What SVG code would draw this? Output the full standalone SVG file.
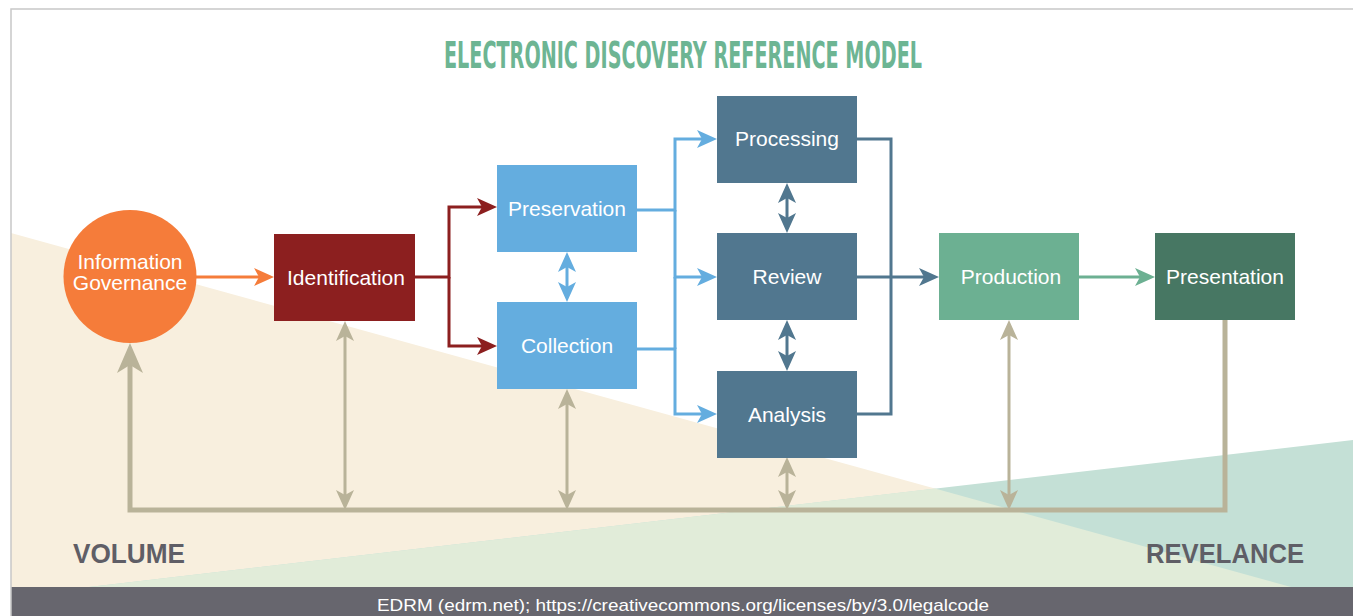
<svg xmlns="http://www.w3.org/2000/svg" width="1353" height="616" viewBox="0 0 1353 616">
<style>
.lbl{font-family:"Liberation Sans",Arial,sans-serif;font-size:21px;fill:#ffffff;text-anchor:middle}
.ln{fill:none;stroke-width:3}
.tan{stroke:#b9b399}
.big{fill:#5f5e66;font-family:"Liberation Sans",Arial,sans-serif;font-weight:bold;font-size:27px}
</style>
<defs>
<marker id="a-or" viewBox="0 0 20 18" markerWidth="20" markerHeight="18" refX="14" refY="9" markerUnits="userSpaceOnUse" orient="auto-start-reverse"><path d="M0,0 L20,9 L0,18 L5,9 Z" fill="#f57c3a"/></marker>
<marker id="a-rd" viewBox="0 0 20 18" markerWidth="20" markerHeight="18" refX="14" refY="9" markerUnits="userSpaceOnUse" orient="auto-start-reverse"><path d="M0,0 L20,9 L0,18 L5,9 Z" fill="#8c1f1f"/></marker>
<marker id="a-bl" viewBox="0 0 20 18" markerWidth="20" markerHeight="18" refX="14" refY="9" markerUnits="userSpaceOnUse" orient="auto-start-reverse"><path d="M0,0 L20,9 L0,18 L5,9 Z" fill="#64addf"/></marker>
<marker id="a-sl" viewBox="0 0 20 18" markerWidth="20" markerHeight="18" refX="14" refY="9" markerUnits="userSpaceOnUse" orient="auto-start-reverse"><path d="M0,0 L20,9 L0,18 L5,9 Z" fill="#51778f"/></marker>
<marker id="a-gr" viewBox="0 0 20 18" markerWidth="20" markerHeight="18" refX="14" refY="9" markerUnits="userSpaceOnUse" orient="auto-start-reverse"><path d="M0,0 L20,9 L0,18 L5,9 Z" fill="#6cb092"/></marker>
<marker id="a-tn" viewBox="0 0 20 18" markerWidth="20" markerHeight="18" refX="14" refY="9" markerUnits="userSpaceOnUse" orient="auto-start-reverse"><path d="M0,0 L20,9 L0,18 L5,9 Z" fill="#b9b399"/></marker>
<marker id="a-tnb" viewBox="0 0 30 26" markerWidth="30" markerHeight="26" refX="22" refY="13" markerUnits="userSpaceOnUse" orient="auto"><path d="M0,0 L30,13 L0,26 L8,13 Z" fill="#b9b399"/></marker>
</defs>
<rect width="1353" height="616" fill="#ffffff"/>
<g id="background">
<polygon points="11,233 1291,587 11,587" fill="#f8efde"/>
<polygon points="89,587 1353,440 1353,587" fill="#c4e0d6"/>
<polygon points="89,587 935,488.6 1291,587" fill="#e1ecd9"/>
<rect x="11" y="587" width="1342" height="29" fill="#67666e"/>
<path d="M11,616 V9 H1353" fill="none" stroke="#c8c8c8" stroke-width="1.5"/>
</g>
<text id="title" x="683" y="68" text-anchor="middle" font-family="'Liberation Sans Narrow','DejaVu Sans Condensed','Liberation Sans',sans-serif" font-weight="bold" font-size="37" fill="#6db593" textLength="478" lengthAdjust="spacingAndGlyphs">ELECTRONIC DISCOVERY REFERENCE MODEL</text>
<g id="connectors">
<path class="ln" stroke="#f57c3a" d="M196,277 H268" marker-end="url(#a-or)"/>
<path class="ln" stroke="#8c1f1f" d="M415,277 H449 V207 H491" marker-end="url(#a-rd)"/>
<path class="ln" stroke="#8c1f1f" d="M449,277 V346 H491" marker-end="url(#a-rd)"/>
<path class="ln" stroke="#64addf" d="M637,210 H675 V139 H711" marker-end="url(#a-bl)"/>
<path class="ln" stroke="#64addf" d="M675,210 V277 H711" marker-end="url(#a-bl)"/>
<path class="ln" stroke="#64addf" d="M637,349 H675 V414 H711" marker-end="url(#a-bl)"/>
<path class="ln" stroke="#64addf" d="M675,277 V349"/>
<path class="ln" stroke="#64addf" d="M567,258 V296" marker-start="url(#a-bl)" marker-end="url(#a-bl)"/>
<path class="ln" stroke="#51778f" d="M857,139 H891 V414 H857"/>
<path class="ln" stroke="#51778f" d="M857,277 H933" marker-end="url(#a-sl)"/>
<path class="ln" stroke="#51778f" d="M787,189 V227" marker-start="url(#a-sl)" marker-end="url(#a-sl)"/>
<path class="ln" stroke="#51778f" d="M787,326 V365" marker-start="url(#a-sl)" marker-end="url(#a-sl)"/>
<path class="ln" stroke="#6cb092" d="M1079,277 H1149" marker-end="url(#a-gr)"/>
<path class="tan" fill="none" stroke-width="5" d="M1225,320 V510 H130 V351" marker-end="url(#a-tnb)"/>
<path class="ln tan" d="M345,327 V504" marker-start="url(#a-tn)" marker-end="url(#a-tn)"/>
<path class="ln tan" d="M567,395 V504" marker-start="url(#a-tn)" marker-end="url(#a-tn)"/>
<path class="ln tan" d="M787,463 V504" marker-start="url(#a-tn)" marker-end="url(#a-tn)"/>
<path class="ln tan" d="M1009,326 V504" marker-start="url(#a-tn)" marker-end="url(#a-tn)"/>
</g>
<g id="information-governance">
<circle cx="130" cy="276.5" r="66.5" fill="#f57c3a"/>
<text class="lbl" x="130" y="269">Information</text>
<text class="lbl" x="130" y="290">Governance</text>
</g>
<g id="identification">
<rect x="274" y="234" width="141" height="87" fill="#8c1f1f"/>
<text class="lbl" x="346" y="285">Identification</text>
</g>
<g id="preservation">
<rect x="497" y="165" width="140" height="87" fill="#64addf"/>
<text class="lbl" x="567" y="216">Preservation</text>
</g>
<g id="collection">
<rect x="497" y="302" width="140" height="87" fill="#64addf"/>
<text class="lbl" x="567" y="353">Collection</text>
</g>
<g id="processing">
<rect x="717" y="96" width="140" height="87" fill="#51778f"/>
<text class="lbl" x="787" y="146">Processing</text>
</g>
<g id="review">
<rect x="717" y="233" width="140" height="87" fill="#51778f"/>
<text class="lbl" x="787" y="284">Review</text>
</g>
<g id="analysis">
<rect x="717" y="371" width="140" height="87" fill="#51778f"/>
<text class="lbl" x="787" y="422">Analysis</text>
</g>
<g id="production">
<rect x="939" y="233" width="140" height="87" fill="#6cb092"/>
<text class="lbl" x="1011" y="284">Production</text>
</g>
<g id="presentation">
<rect x="1155" y="233" width="140" height="87" fill="#477763"/>
<text class="lbl" x="1225" y="284">Presentation</text>
</g>
<text class="big" x="73" y="563" textLength="112" lengthAdjust="spacingAndGlyphs">VOLUME</text>
<text class="big" x="1146" y="563" textLength="158" lengthAdjust="spacingAndGlyphs">REVELANCE</text>
<text x="683" y="611" text-anchor="middle" font-family="'Liberation Sans',Arial,sans-serif" font-size="17" fill="#ffffff" textLength="612" lengthAdjust="spacingAndGlyphs">EDRM (edrm.net); https://creativecommons.org/licenses/by/3.0/legalcode</text>
</svg>
